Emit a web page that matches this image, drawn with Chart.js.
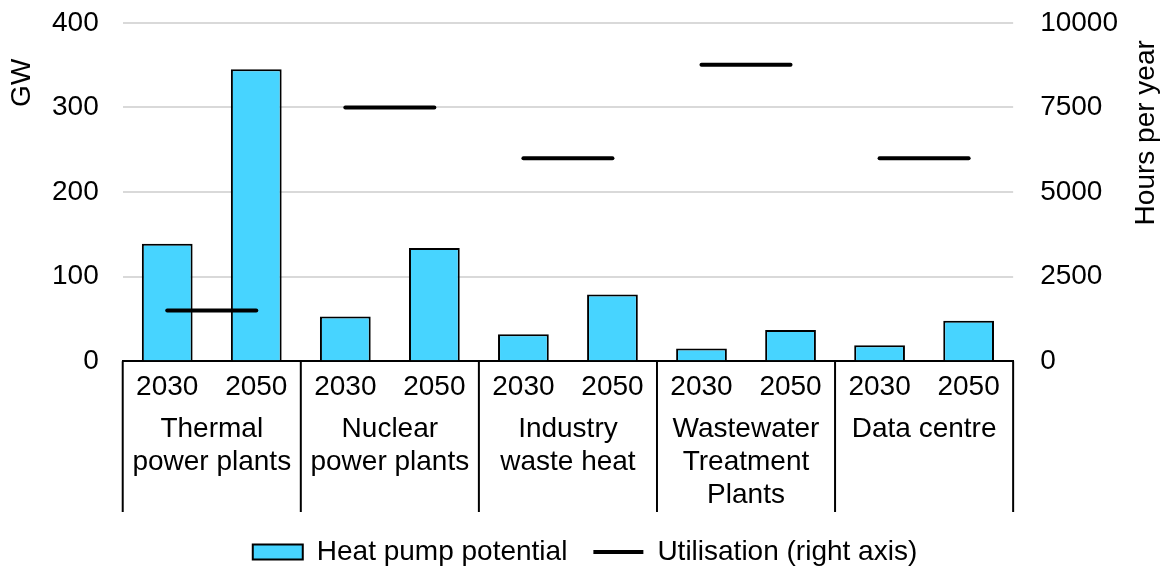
<!DOCTYPE html>
<html lang="en">
<head>
    <meta charset="UTF-8">
    <title>Heat pump potential</title>
    <script src="https://cdn.jsdelivr.net/npm/chart.js"></script>
    <style>
        body { margin: 0; background: #fff; }
    </style>
</head>
<body>
    <canvas id="hpChart" width="1167" height="576"></canvas>

    <script>
        // data
        var years = ['2030', '2050', '2030', '2050', '2030', '2050', '2030', '2050', '2030', '2050'];
        var groups = [
            ['Thermal', 'power plants'],
            ['Nuclear', 'power plants'],
            ['Industry', 'waste heat'],
            ['Wastewater', 'Treatment', 'Plants'],
            ['Data centre']
        ];
        var heatPumpGW = [139, 345, 53, 134, 32, 79, 15, 37, 19, 48];
        var utilisationHours = [1500, 1500, 7500, 7500, 6000, 6000, 8760, 8760, 6000, 6000];
        var gwTicks = [0, 100, 200, 300, 400];
        var hoursTicks = [0, 2500, 5000, 7500, 10000];

        var FONT = { family: '"Liberation Sans", Arial, sans-serif', size: 28 };

        // separators between the groups under the axis + the two axis titles
        var groupLines = {
            id: 'groupLines',
            afterDraw: function (chart) {
                var ctx = chart.ctx, area = chart.chartArea;
                var x = chart.scales.x, x2 = chart.scales.x2;
                ctx.save();
                ctx.strokeStyle = '#000';
                ctx.lineWidth = 2;
                for (var i = 0; i <= years.length; i += 2) {
                    var px;
                    if (i === 0) px = area.left;
                    else if (i === years.length) px = area.right;
                    else px = (x.getPixelForValue(i - 1) + x.getPixelForValue(i)) / 2;
                    ctx.beginPath();
                    ctx.moveTo(px, area.bottom);
                    ctx.lineTo(px, x2.bottom);
                    ctx.stroke();
                }

                ctx.fillStyle = '#000';
                ctx.font = FONT.size + 'px ' + FONT.family;
                ctx.textAlign = 'center';
                ctx.textBaseline = 'middle';
                ctx.save();
                ctx.translate(22, area.top + 60);
                ctx.rotate(-Math.PI / 2);
                ctx.fillText('GW', 0, 0);
                ctx.restore();
                ctx.translate(1146, area.top + 110);
                ctx.rotate(-Math.PI / 2);
                ctx.fillText('Hours per year', 0, 0);
                ctx.restore();
            }
        };

        function plain(v) { return String(v); }

        var ctx = document.getElementById('hpChart').getContext('2d');
        var chart = new Chart(ctx, {
            type: 'bar',
            data: {
                labels: years,
                datasets: [
                    {
                        label: 'Heat pump potential',
                        data: heatPumpGW,
                        backgroundColor: '#47D4FF',
                        borderColor: '#000',
                        borderWidth: 2,
                        barPercentage: 0.57,
                        categoryPercentage: 1,
                        yAxisID: 'y',
                        order: 1,
                        pointStyle: 'rect'
                    },
                    {
                        type: 'line',
                        label: 'Utilisation (right axis)',
                        data: utilisationHours,
                        borderColor: '#000',
                        backgroundColor: '#000',
                        borderWidth: 4,
                        borderCapStyle: 'round',
                        pointRadius: 0,
                        fill: false,
                        yAxisID: 'y1',
                        order: 0,
                        pointStyle: 'line',
                        // only join 2030 -> 2050 inside a group
                        segment: {
                            borderColor: function (c) { return c.p0DataIndex % 2 ? 'rgba(0,0,0,0)' : '#000'; }
                        }
                    }
                ]
            },
            options: {
                responsive: false,
                animation: false,
                layout: { padding: { top: 0, left: 46, right: 43, bottom: 0 } },
                plugins: {
                    tooltip: { enabled: false },
                    legend: {
                        position: 'bottom',
                        labels: {
                            color: '#000',
                            font: FONT,
                            usePointStyle: true,
                            pointStyleWidth: 50,
                            boxHeight: 15,
                            padding: 26,
                            sort: function (a, b) { return a.datasetIndex - b.datasetIndex; }
                        }
                    }
                },
                scales: {
                    x: {
                        type: 'category',
                        offset: true,
                        grid: { display: false, drawTicks: false },
                        border: { display: true, color: '#000', width: 2 },
                        ticks: { color: '#000', font: FONT, padding: 9, maxRotation: 0, autoSkip: false }
                    },
                    x2: {
                        type: 'category',
                        position: 'bottom',
                        labels: groups,
                        offset: true,
                        grid: { display: false, drawTicks: false },
                        border: { display: false },
                        ticks: { color: '#000', font: { family: FONT.family, size: 28, lineHeight: 1.18 }, padding: 0, maxRotation: 0, autoSkip: false }
                    },
                    y: {
                        position: 'left',
                        min: 0,
                        max: 400,
                        afterBuildTicks: function (s) { s.ticks = gwTicks.map(function (v) { return { value: v }; }); },
                        grid: { color: '#d9d9d9', lineWidth: 2, drawTicks: true, tickLength: 18, tickColor: 'rgba(0,0,0,0)' },
                        border: { display: false },
                        ticks: { color: '#000', font: FONT, padding: 6, callback: plain }
                    },
                    y1: {
                        position: 'right',
                        min: 0,
                        max: 10000,
                        afterBuildTicks: function (s) { s.ticks = hoursTicks.map(function (v) { return { value: v }; }); },
                        grid: { drawOnChartArea: false, drawTicks: true, tickLength: 21, tickColor: 'rgba(0,0,0,0)' },
                        border: { display: false },
                        ticks: { color: '#000', font: FONT, padding: 6, callback: plain }
                    }
                }
            },
            plugins: [groupLines]
        });
    </script>
</body>
</html>
